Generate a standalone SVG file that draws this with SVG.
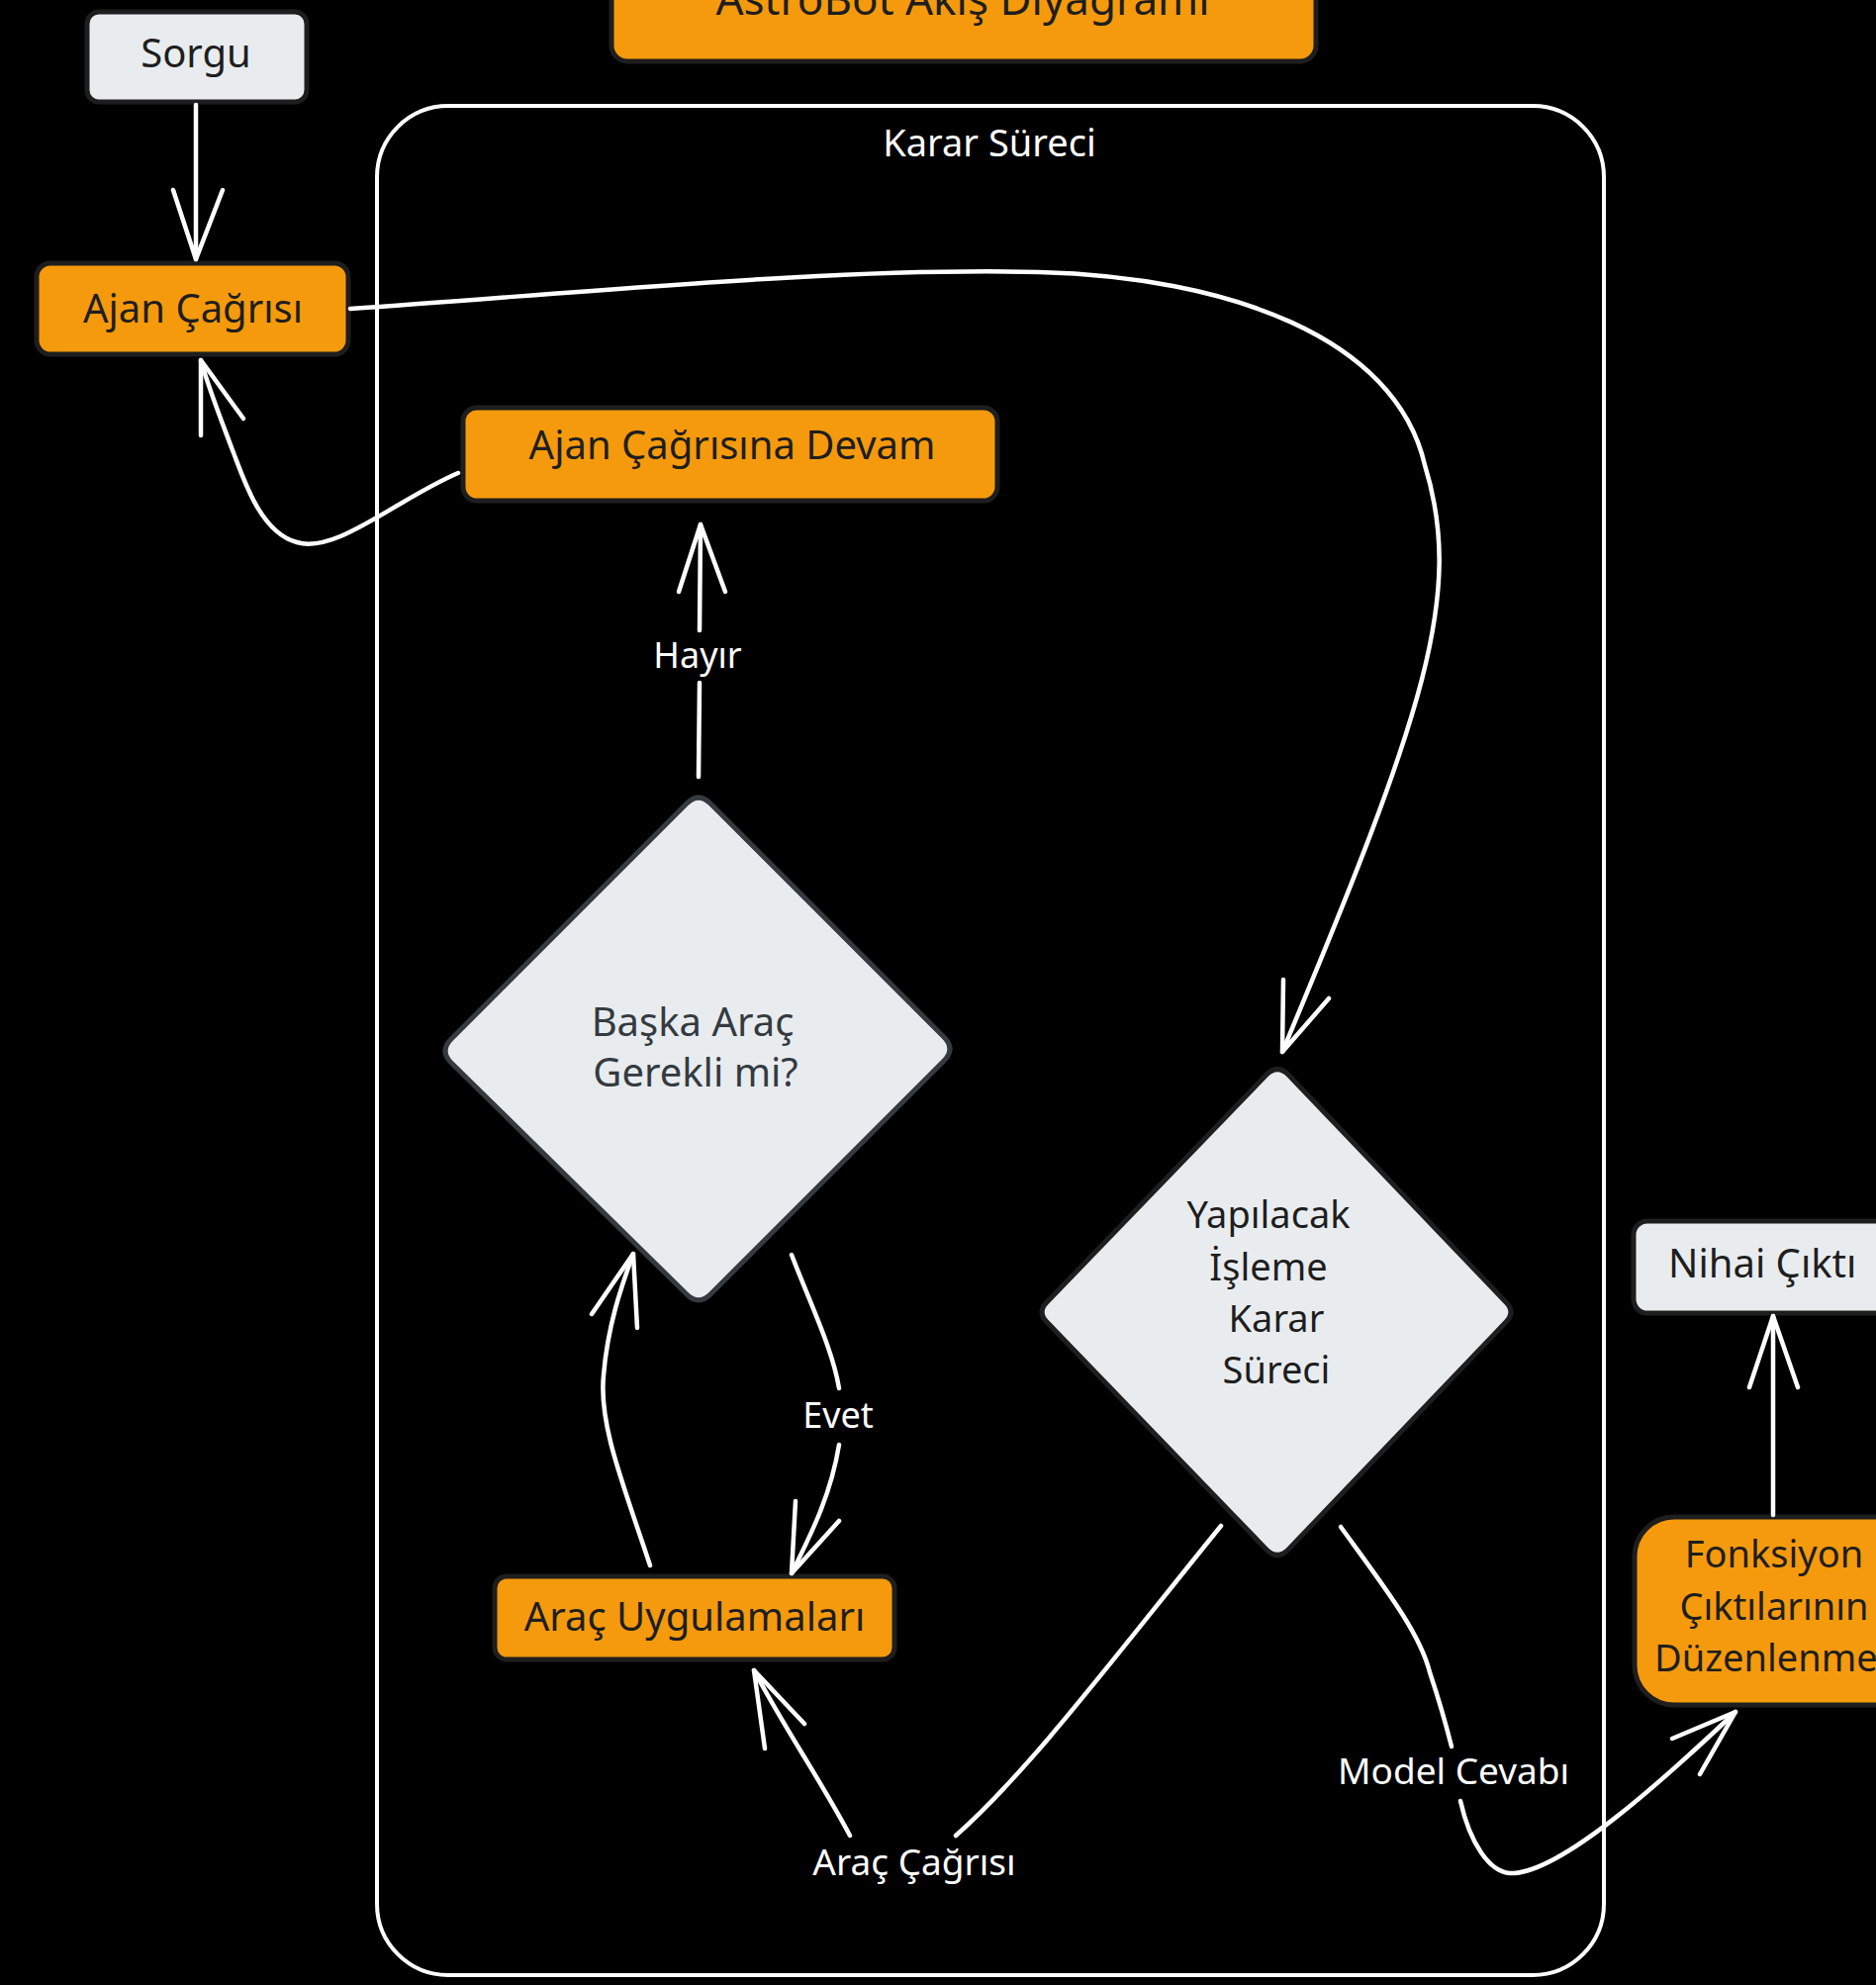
<svg xmlns="http://www.w3.org/2000/svg" width="1896" height="2006" viewBox="0 0 1896 2006">
<style>
  .bg{fill:#000}
  .orange{fill:#f59a0c;stroke:#1e1e1e;stroke-width:5}
  .light{fill:#e9ecef;stroke:#1e1e1e;stroke-width:5}
  .diam{fill:#e9ecef;stroke:#343a40;stroke-width:5}
  .diam2{fill:#e9ecef;stroke:#1e1e1e;stroke-width:5}
  .frame{fill:none;stroke:#ffffff;stroke-width:4}
  .t{font-family:"Noto Sans","Liberation Sans",sans-serif;text-anchor:middle;fill:#1e1e1e}
  .tg{fill:#343a40}
  .tw{fill:#ffffff}
  .c{fill:none;stroke:#ffffff;stroke-width:4.5;stroke-linecap:round;stroke-linejoin:round}
</style>
<rect class="bg" x="0" y="0" width="1896" height="2006"/>

<g id="title">
  <rect class="orange" x="618" y="-40" width="712" height="102" rx="16"/>
  <text class="t" x="973" y="15" font-size="44">AstroBot Akış Diyagramı</text>
</g>

<g id="karar-sureci-frame">
  <rect class="frame" x="381" y="107" width="1240" height="1889" rx="72"/>
  <text class="t tw" x="1000" y="158" font-size="38">Karar Süreci</text>
</g>

<g id="sorgu">
  <rect class="light" x="88" y="12" width="222" height="91" rx="12"/>
  <text class="t" x="198" y="68" font-size="40">Sorgu</text>
</g>

<g id="ajan-cagrisi">
  <rect class="orange" x="37" y="266" width="315" height="92" rx="14"/>
  <text class="t" x="195" y="326" font-size="40">Ajan Çağrısı</text>
</g>

<g id="ajan-cagrisina-devam">
  <rect class="orange" x="468" y="412" width="540" height="94" rx="14"/>
  <text class="t" x="740" y="464" font-size="40">Ajan Çağrısına Devam</text>
</g>

<g id="baska-arac">
  <path class="diam" d="M 718 812 L 954 1048 Q 966 1060 954 1072 L 718 1308 Q 706 1320 694 1308 L 456 1074 Q 444 1062 456 1050 L 694 812 Q 706 800 718 812 Z"/>
  <text class="t tg" x="700" y="1047" font-size="40">Başka Araç</text>
  <text class="t tg" x="703" y="1098" font-size="40">Gerekli mi?</text>
</g>

<g id="yapilacak-isleme">
  <path class="diam2" d="M 1302 1086 L 1522 1316 Q 1532 1326 1522 1336 L 1302 1566 Q 1291 1577 1280 1566 L 1058 1336 Q 1048 1326 1058 1316 L 1280 1086 Q 1291 1075 1302 1086 Z"/>
  <text class="t" x="1282" y="1241" font-size="38">Yapılacak</text>
  <text class="t" x="1282" y="1294" font-size="38">İşleme</text>
  <text class="t" x="1290" y="1346" font-size="38">Karar</text>
  <text class="t" x="1290" y="1398" font-size="38">Süreci</text>
</g>

<g id="arac-uygulamalari">
  <rect class="orange" x="500" y="1593" width="404" height="84" rx="12"/>
  <text class="t" x="702" y="1648" font-size="40">Araç Uygulamaları</text>
</g>

<g id="nihai-cikti">
  <rect class="light" x="1651" y="1234" width="290" height="93" rx="14"/>
  <text class="t" x="1686" y="1291" font-size="40" style="text-anchor:start">Nihai Çıktı</text>
</g>

<g id="fonksiyon-ciktilari">
  <rect class="orange" x="1652" y="1533" width="290" height="190" rx="40"/>
  <text class="t" x="1793" y="1584" font-size="38">Fonksiyon</text>
  <text class="t" x="1793" y="1637" font-size="38">Çıktılarının</text>
  <text class="t" x="1672" y="1689" font-size="38" style="text-anchor:start">Düzenlenmesi</text>
</g>

<g id="connectors">
  <!-- Sorgu -> Ajan Çağrısı -->
  <path class="c" d="M 198 106 L 198 262"/>
  <path class="c" d="M 175 192 L 198 262 L 225 192"/>

  <!-- Ajan Çağrısı -> Yapılacak İşleme -->
  <path class="c" d="M 354 312 C 600 295 850 270 1050 275 C 1240 280 1410 340 1440 470 C 1480 600 1440 720 1296 1063"/>
  <path class="c" d="M 1297 990 L 1296 1063 L 1343 1009"/>

  <!-- Ajan Çağrısına Devam -> Ajan Çağrısı -->
  <path class="c" d="M 463 478 C 400 505 340 560 300 548 C 262 538 245 480 235 455 C 220 415 210 390 203 364"/>
  <path class="c" d="M 203 440 L 203 364 L 246 423"/>

  <!-- Başka Araç -> Ajan Çağrısına Devam (Hayır) -->
  <path class="c" d="M 706 785 L 707 690"/>
  <path class="c" d="M 707 637 L 708 530"/>
  <path class="c" d="M 686 598 L 708 530 L 733 598"/>
  <text class="t tw" x="705" y="675" font-size="36">Hayır</text>

  <!-- Başka Araç -> Araç Uygulamaları (Evet) -->
  <path class="c" d="M 800 1268 C 820 1320 842 1365 848 1403"/>
  <path class="c" d="M 848 1460 C 840 1510 820 1550 800 1590"/>
  <path class="c" d="M 804 1517 L 800 1590 L 848 1537"/>
  <text class="t tw" x="847" y="1443" font-size="36">Evet</text>

  <!-- Araç Uygulamaları -> Başka Araç -->
  <path class="c" d="M 657 1582 C 630 1500 605 1440 610 1390 C 614 1340 628 1300 640 1267"/>
  <path class="c" d="M 598 1328 L 640 1267 L 644 1342"/>

  <!-- Yapılacak -> Araç Uygulamaları (Araç Çağrısı) -->
  <path class="c" d="M 1234 1542 C 1130 1670 1040 1790 966 1855"/>
  <path class="c" d="M 859 1855 C 830 1800 795 1750 762 1688"/>
  <path class="c" d="M 773 1767 L 762 1688 L 813 1742"/>
  <text class="t tw" x="924" y="1895" font-size="37">Araç Çağrısı</text>

  <!-- Yapılacak -> Fonksiyon (Model Cevabı) -->
  <path class="c" d="M 1355 1543 C 1400 1605 1435 1650 1445 1690 C 1455 1720 1462 1745 1467 1765"/>
  <path class="c" d="M 1476 1820 C 1485 1860 1505 1895 1530 1893 C 1580 1890 1680 1800 1754 1730"/>
  <path class="c" d="M 1690 1757 L 1754 1730 L 1718 1793"/>
  <text class="t tw" x="1469" y="1803" font-size="37">Model Cevabı</text>

  <!-- Fonksiyon -> Nihai Çıktı -->
  <path class="c" d="M 1792 1531 L 1792 1330"/>
  <path class="c" d="M 1768 1402 L 1792 1330 L 1817 1402"/>
</g>
</svg>
